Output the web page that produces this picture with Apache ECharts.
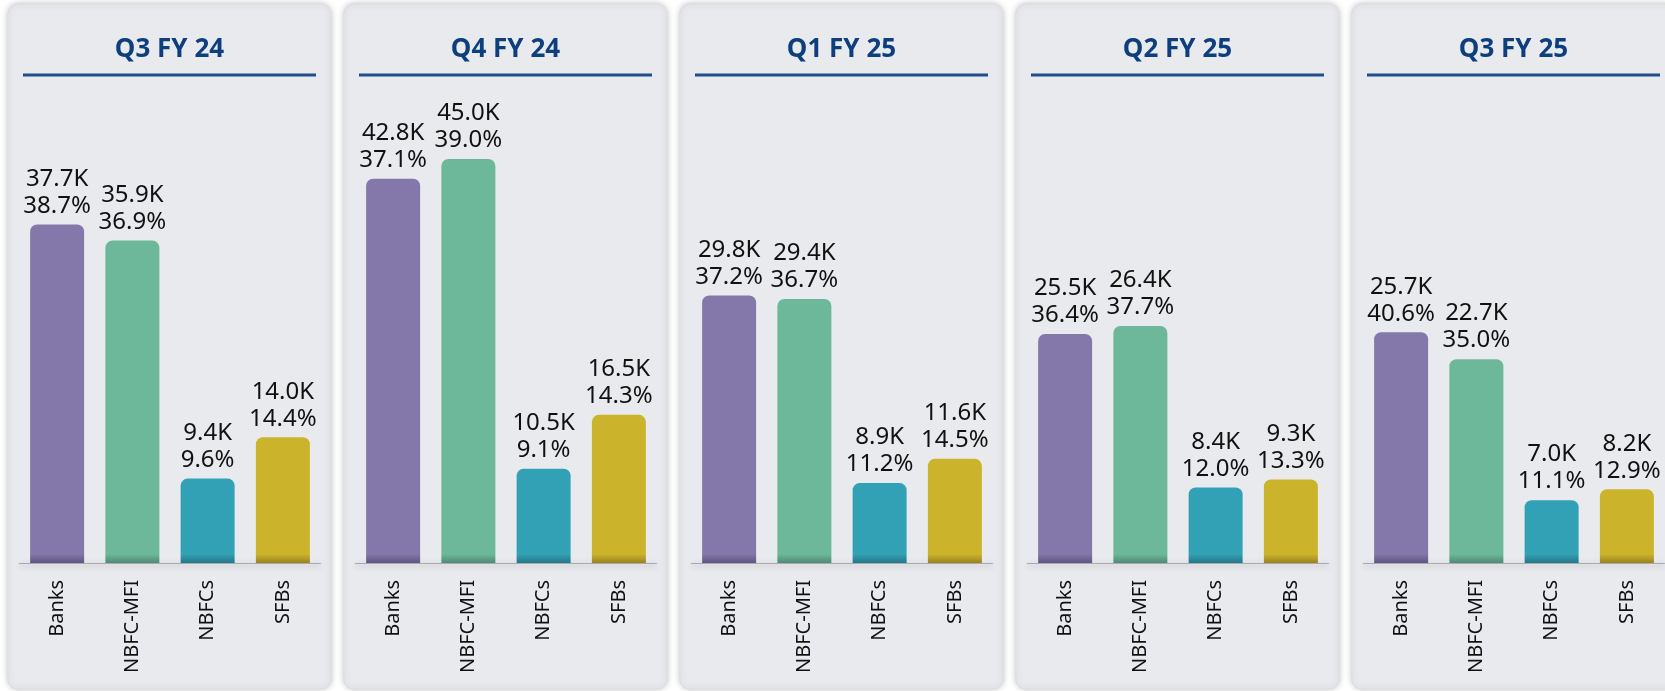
<!DOCTYPE html>
<html>
<head>
<meta charset="utf-8">
<script src="https://cdn.jsdelivr.net/npm/echarts@6/dist/echarts.min.js"></script>
<style>
  html, body { margin: 0; padding: 0; background: #ffffff; }
  #chart { width: 1665px; height: 691px; }
</style>
</head>
<body>
<div id="chart"></div>
<script>
// quarters and lender categories
const quarters = ['Q3 FY 24', 'Q4 FY 24', 'Q1 FY 25', 'Q2 FY 25', 'Q3 FY 25'];
const categories = ['Banks', 'NBFC-MFI', 'NBFCs', 'SFBs'];

// value in thousands, and share of the quarter (%)
const q3fy24Values = [37.7, 35.9, 9.4, 14.0];
const q3fy24Shares = [38.7, 36.9, 9.6, 14.4];
const q4fy24Values = [42.8, 45.0, 10.5, 16.5];
const q4fy24Shares = [37.1, 39.0, 9.1, 14.3];
const q1fy25Values = [29.8, 29.4, 8.9, 11.6];
const q1fy25Shares = [37.2, 36.7, 11.2, 14.5];
const q2fy25Values = [25.5, 26.4, 8.4, 9.3];
const q2fy25Shares = [36.4, 37.7, 12.0, 13.3];
const q3fy25Values = [25.7, 22.7, 7.0, 8.2];
const q3fy25Shares = [40.6, 35.0, 11.1, 12.9];

const valuesByQuarter = [q3fy24Values, q4fy24Values, q1fy25Values, q2fy25Values, q3fy25Values];
const sharesByQuarter = [q3fy24Shares, q4fy24Shares, q1fy25Shares, q2fy25Shares, q3fy25Shares];

const COLORS = ['#8378a9', '#6db89b', '#32a1b5', '#ccb32c'];
const DARK = ['#5e557f', '#4f8a73', '#227888', '#98851c'];
const FONT = '"Noto Sans", "Open Sans", sans-serif';

const PANEL_X0 = 8;
const PANEL_STEP = 336;
const PANEL_W = 323;
const PANEL_TOP = 4;
const PANEL_H = 685;
const BASE_Y = 563;

const chart = echarts.init(document.getElementById('chart'));

const grids = [];
const xAxes = [];
const yAxes = [];
const series = [];
const graphics = [];

quarters.forEach((q, i) => {
  const px = PANEL_X0 + PANEL_STEP * i;

  // panel card
  graphics.push({
    type: 'rect',
    z: -10,
    shape: { x: px, y: PANEL_TOP, width: PANEL_W, height: PANEL_H, r: 10 },
    style: {
      fill: '#e9eaee',
      stroke: '#dcdde2',
      lineWidth: 1,
      shadowBlur: 6,
      shadowColor: 'rgba(0,0,0,0.22)',
    },
  });
  graphics.push({
    type: 'text',
    z: -5,
    x: px + PANEL_W / 2,
    y: 50,
    style: {
      text: q,
      fill: '#0d3f7e',
      font: 'bold 26px ' + FONT,
      align: 'center',
      verticalAlign: 'middle',
    },
  });
  graphics.push({
    type: 'line',
    z: -5,
    shape: { x1: px + 15, y1: 75, x2: px + PANEL_W - 15, y2: 75 },
    style: { stroke: '#1f4e89', lineWidth: 3 },
  });

  grids.push({ left: px + 11.5, width: 301, top: 114, bottom: 691 - BASE_Y });
  xAxes.push({
    type: 'category',
    gridIndex: i,
    data: categories,
    axisTick: { show: false },
    axisLine: {
      lineStyle: {
        color: '#a9aab0',
        width: 1,
        shadowColor: 'rgba(0,0,0,0.35)',
        shadowBlur: 6,
        shadowOffsetY: 2,
      },
    },
    axisLabel: {
      rotate: 90,
      margin: 17,
      color: '#111111',
      fontSize: 20,
      fontFamily: FONT,
    },
  });
  yAxes.push({ type: 'value', gridIndex: i, min: 0, max: 50, show: false });

  const vals = valuesByQuarter[i];
  const shares = sharesByQuarter[i];
  series.push({
    type: 'bar',
    xAxisIndex: i,
    yAxisIndex: i,
    barWidth: 54,
    data: vals.map((v, k) => ({
      value: v,
      share: shares[k],
      itemStyle: {
        borderRadius: [7, 7, 0, 0],
        color: new echarts.graphic.LinearGradient(0, 0, 0, BASE_Y, [
          { offset: 0, color: COLORS[k] },
          { offset: (BASE_Y - 9) / BASE_Y, color: COLORS[k] },
          { offset: 1, color: DARK[k] },
        ], true),
      },
    })),
    label: {
      show: true,
      position: 'top',
      distance: 5,
      color: '#111111',
      fontSize: 24,
      lineHeight: 27,
      fontFamily: FONT,
      formatter: (p) => p.value.toFixed(1) + 'K\n' + p.data.share.toFixed(1) + '%',
    },
  });
});

chart.setOption({
  backgroundColor: '#ffffff',
  animation: false,
  graphic: graphics,
  grid: grids,
  xAxis: xAxes,
  yAxis: yAxes,
  series: series,
});
</script>
</body>
</html>
